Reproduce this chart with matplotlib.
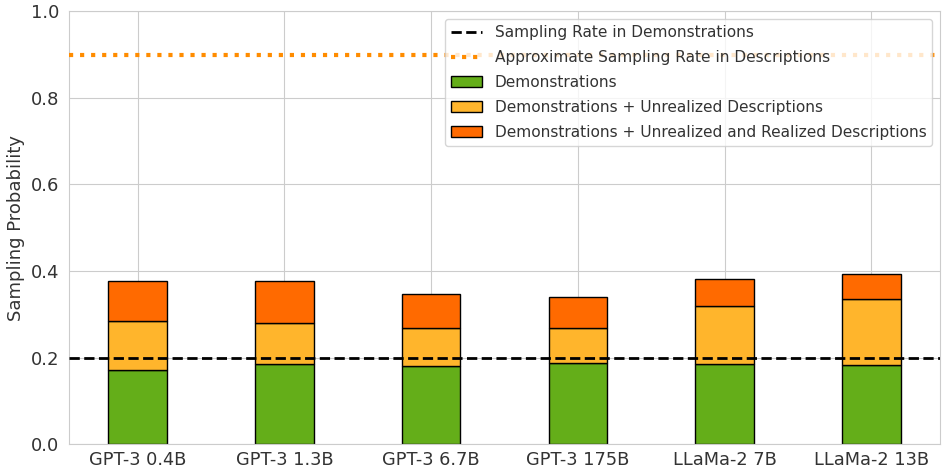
import numpy as np
import matplotlib.pyplot as plt
import seaborn as sns

models = ['GPT-3 0.4B', 'GPT-3 1.3B', 'GPT-3 6.7B', 'GPT-3 175B', 'LLaMa-2 7B', 'LLaMa-2 13B']
demos = [0.172, 0.185, 0.180, 0.187, 0.185, 0.182]
demos_unreal = [0.285, 0.279, 0.269, 0.269, 0.319, 0.336]
demos_all = [0.378, 0.376, 0.348, 0.339, 0.382, 0.393]
demo_rate = 0.2
desc_rate = 0.9

sns.set_style('whitegrid')
plt.rcParams['font.family'] = ['DejaVu Sans']
plt.rcParams['text.color'] = '#333333'
plt.rcParams['xtick.color'] = '#333333'
plt.rcParams['ytick.color'] = '#333333'
plt.rcParams['axes.labelcolor'] = '#333333'

fig, ax = plt.subplots(figsize=(9.43, 4.7), dpi=100)
x = np.arange(len(models))
w = 0.4

ax.axhline(demo_rate, color='black', linestyle='--', linewidth=2, label='Sampling Rate in Demonstrations', zorder=3)
ax.axhline(desc_rate, color='darkorange', linestyle=':', linewidth=3, label='Approximate Sampling Rate in Descriptions', zorder=3)

# stacked: cumulative totals drawn as increments
ax.bar(x, demos, w, color='#64ae19', edgecolor='black', label='Demonstrations', zorder=2)
ax.bar(x, np.array(demos_unreal) - np.array(demos), w, bottom=demos, color='#ffb52c',
       edgecolor='black', label='Demonstrations + Unrealized Descriptions', zorder=2)
ax.bar(x, np.array(demos_all) - np.array(demos_unreal), w, bottom=demos_unreal, color='#ff6a00',
       edgecolor='black', label='Demonstrations + Unrealized and Realized Descriptions', zorder=2)

ax.set_ylim(0, 1.0)
ax.set_xticks(x)
ax.set_xticklabels(models, fontsize=12.8)
ax.tick_params(axis='y', labelsize=13)
ax.tick_params(axis='x', pad=1.5)
ax.set_ylabel('Sampling Probability', fontsize=13)

ax.legend(loc='upper right', fontsize=11.1, labelspacing=0.64)

plt.subplots_adjust(left=0.073, right=0.997, top=0.976, bottom=0.055)
plt.savefig('out.png')
